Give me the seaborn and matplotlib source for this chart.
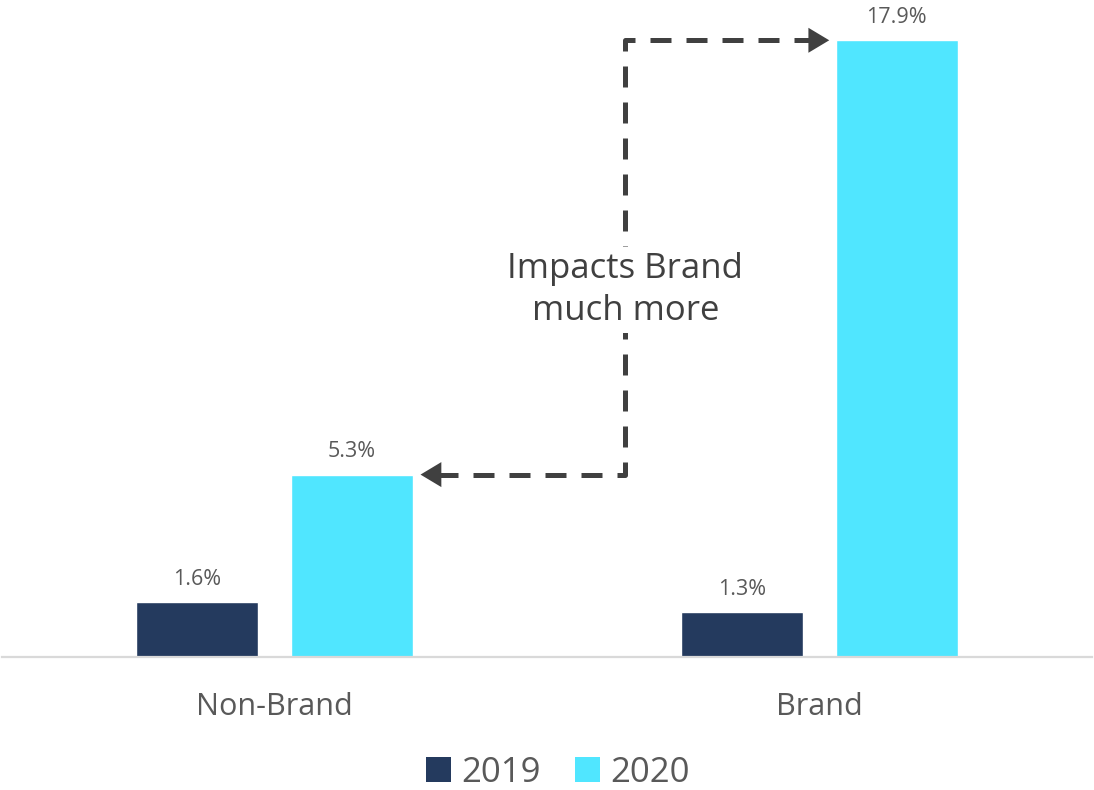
import matplotlib
matplotlib.use("Agg")
import matplotlib.pyplot as plt
from matplotlib.patches import Patch
import seaborn as sns
import pandas as pd

# Share of impressions by segment and year (%)
segments = ["Non-Brand", "Brand"]
years = ["2019", "2020"]
values_2019 = [1.6, 1.3]
values_2020 = [5.3, 17.9]

colors = {"2019": "#243a5e", "2020": "#50e6ff"}
text_color = "#595959"
arrow_color = "#404040"

df = pd.DataFrame({
    "segment": segments * 2,
    "year": [years[0]] * len(segments) + [years[1]] * len(segments),
    "share": values_2019 + values_2020,
})

sns.set_theme(style="white")
plt.rcParams["font.family"] = ["Open Sans", "DejaVu Sans"]

fig = plt.figure(figsize=(10.94, 7.9), dpi=100)
ax = fig.add_axes([0.0018, 0.168, 0.9963, 0.829])

sns.barplot(data=df, x="segment", y="share", hue="year", order=segments,
            hue_order=years, palette=colors, width=0.568, gap=0.213,
            saturation=1, legend=False, ax=ax)

ax.set_xlim(-0.5, 1.5)
ax.set_ylim(0, 19)
ax.set_xlabel("")
ax.set_ylabel("")
ax.set_yticks([])
for side in ("top", "left", "right"):
    ax.spines[side].set_visible(False)
ax.spines["bottom"].set_color("#d9d9d9")
ax.spines["bottom"].set_linewidth(1.6)
ax.tick_params(axis="x", length=0, pad=25, labelsize=22, labelcolor=text_color)

for container in ax.containers:
    ax.bar_label(container, fmt="%.1f%%", padding=9, fontsize=15.5, color=text_color)

# Dashed connector between the two 2020 bars
low, high = values_2020[0], values_2020[1]
x_mid = 0.644
x_left_tip = 0.268
x_right_tip = 1.018
ax.plot([x_left_tip + 0.03, x_mid, x_mid, x_right_tip - 0.03],
        [low, low, high, high], color=arrow_color, lw=3.6,
        dashes=(4.2, 3.0), dash_capstyle="butt", solid_joinstyle="miter",
        zorder=3)
arrow_kw = dict(arrowstyle="-|>,head_length=0.75,head_width=0.45",
                color=arrow_color, lw=0, shrinkA=0, shrinkB=0,
                mutation_scale=20)
ax.annotate("", xy=(x_left_tip, low), xytext=(x_left_tip + 0.04, low),
            arrowprops=arrow_kw, zorder=4)
ax.annotate("", xy=(x_right_tip, high), xytext=(x_right_tip - 0.04, high),
            arrowprops=arrow_kw, zorder=4)

ax.text(x_mid, 10.65, "Impacts Brand\nmuch more", ha="center", va="center",
        fontsize=25, color="#404040", linespacing=1.3, zorder=5,
        bbox=dict(boxstyle="square,pad=0.15", facecolor="white", edgecolor="none"))

handles = [Patch(facecolor=colors[y], edgecolor="none", label=y) for y in years]
fig.legend(handles=handles, loc="center", bbox_to_anchor=(0.51, 0.022),
           ncol=2, frameon=False, fontsize=25, handlelength=0.72,
           handleheight=0.72, handletextpad=0.3, columnspacing=1.0,
           labelcolor=text_color)

fig.savefig("out.png", dpi=100, facecolor="white")
